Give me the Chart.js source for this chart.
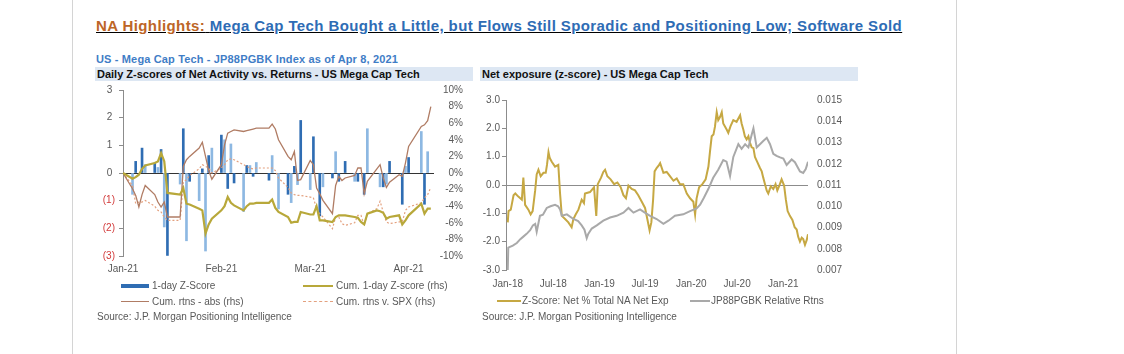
<!DOCTYPE html>
<html>
<head>
<meta charset="utf-8">
<script src="https://cdn.jsdelivr.net/npm/chart.js@4.4.1/dist/chart.umd.min.js"></script>
<style>
  body { margin: 0; background: #fff; width: 1124px; height: 354px; position: relative; overflow: hidden;
         font-family: "Liberation Sans", Arial, sans-serif; }
  .abs { position: absolute; white-space: nowrap; }
  .vline { position: absolute; top: 0; width: 1px; height: 354px; background: #d4d4d4; }
  .title { left: 96px; top: 16px; font-size: 15px; letter-spacing: 0.4px; font-weight: bold; line-height: 19px; text-decoration: underline; }
  .sub { left: 96px; top: 53px; font-size: 11px; letter-spacing: 0.15px; font-weight: bold; line-height: 13px; color: #3f7dc6; }
  .band { top: 67px; height: 14px; line-height: 14px; background: #dde7f3; font-size: 11px; font-weight: bold; color: #111; padding-left: 2px; box-sizing: border-box; }
  .leg { font-size: 10px; line-height: 12px; color: #595959; }
  .sw { position: absolute; }
  canvas { position: absolute; }
</style>
</head>
<body>
<div class="vline" style="left:72px"></div>
<div class="vline" style="left:956px"></div>

<div class="abs title"><span style="color:#bd6526">NA Highlights:</span> <span style="color:#2e6cb5">Mega Cap Tech Bought a Little, but Flows Still Sporadic and Positioning Low; Software Sold</span></div>
<div class="abs sub">US - Mega Cap Tech - JP88PGBK Index as of Apr 8, 2021</div>
<div class="abs band" style="left:95px;width:378px">Daily Z-scores of Net Activity vs. Returns - US Mega Cap Tech</div>
<div class="abs band" style="left:480px;width:378px">Net exposure (z-score) - US Mega Cap Tech</div>

<canvas id="leftChart" width="368" height="200" style="left:95px;top:80px"></canvas>
<canvas id="rightChart" width="375" height="205" style="left:478px;top:85px"></canvas>

<!-- left legend -->
<div class="sw" style="left:121px;top:284px;width:28px;height:4px;background:#2f6db3"></div>
<div class="abs leg" style="left:152px;top:280px">1-day Z-Score</div>
<div class="sw" style="left:303px;top:285px;width:30px;height:2px;background:#b8a83a"></div>
<div class="abs leg" style="left:336px;top:280px">Cum. 1-day Z-score (rhs)</div>
<div class="sw" style="left:121px;top:301px;width:28px;height:1px;background:#b07c64"></div>
<div class="abs leg" style="left:152px;top:296px">Cum. rtns - abs (rhs)</div>
<div class="sw" style="left:303px;top:301px;width:30px;height:0;border-top:1px dashed #e3a07e"></div>
<div class="abs leg" style="left:336px;top:296px">Cum. rtns v. SPX (rhs)</div>
<div class="abs leg" style="left:97px;top:311px">Source: J.P. Morgan Positioning Intelligence</div>

<!-- right legend -->
<div class="sw" style="left:497px;top:300px;width:24px;height:2px;background:#c6a843"></div>
<div class="abs leg" style="left:522px;top:295px">Z-Score: Net % Total NA Net Exp</div>
<div class="sw" style="left:690px;top:300px;width:20px;height:2px;background:#a9a9a9"></div>
<div class="abs leg" style="left:711px;top:295px">JP88PGBK Relative Rtns</div>
<div class="abs leg" style="left:482px;top:311px">Source: J.P. Morgan Positioning Intelligence</div>

<script>
// ---- left chart: days counted from 1 Jan 2021 (trading days only) ----
const tradingDays = [0, 3, 4, 5, 6, 7, 10, 11, 12, 13, 14, 18, 19, 20, 21, 24, 25, 26, 27, 28,
  31, 32, 33, 34, 35, 38, 39, 40, 41, 42, 46, 47, 48, 49, 52, 53, 54, 55, 56,
  59, 60, 61, 62, 63, 66, 67, 68, 69, 70, 73, 74, 75, 76, 77, 80, 81, 82, 83, 84,
  87, 88, 89, 90, 94, 95, 96, 97];

// 1-day z-score (lhs)
const oneDayZ = [null, -0.77, 0.42, null, 0.9, 0.3, 0.36, 0.2, 0.85, -1.95, -2.98,
  -0.4, 1.6, -2.45, -0.3, -1.0, 0.15, -2.82, 0.63, 0.9,
  1.37, 1.2, -0.56, 1.05, -0.36, -1.39, 0.27, 0.27, -0.12, 0.38, -0.26, 0.63, null, -1.3,
  -0.77, -1.07, 0.24, -0.42, 1.9, -0.6, 1.31, null, -1.55, -0.5, -0.18, 0.77, -0.3, null, 0.42,
  -0.3, -0.3, null, -0.77, 1.6, null, -0.5, -0.5, -0.4, 0.42, null, -1.13, 0.24, 0.56,
  1.5, -1.13, 0.77, null];

// cumulative 1-day z-score (rhs, %)
const cumZ = [0, -0.7, -0.5, -0.2, 0.5, 0.9, 1.2, 1.4, 2.4, 1.4, -2.4, -2.6, -1.8, -3.7, -3.8,
  -4.3, -4.5, -7.3, -6.2, -5.5, -4.5, -4.0, -2.9, -3.6, -3.9, -4.5, -4.0, -3.7, -3.7, -3.6,
  -3.6, -3.2, -4.2, -4.7, -5.3, -6.0, -5.9, -5.9, -4.7, -5.0, -5.0, -4.0, -5.7, -5.7,
  -5.9, -5.3, -5.1, -5.1, -5.1, -5.3, -5.4, -5.9, -6.2, -4.9, -4.5, -4.6, -4.8, -5.5, -5.3,
  -5.1, -6.2, -5.7, -5.1, -3.7, -4.9, -4.3, -4.3];

// cumulative absolute returns (rhs, %)
const cumAbs = [0, -1.9, -2.7, -4.1, -2.6, -1.5, -2.6, -3.5, -4.1, -3.5, -5.3, -5.3, 0.8, 1.6, 2.0,
  3.0, 3.7, 2.0, 0.3, -0.75, 1.0, 3.4, 4.8, 5.0, 5.2, 5.0, 5.1, 5.2, 5.3, 5.4,
  5.4, 5.9, 5.3, 4.0, 2.0, 1.6, 2.6, -0.9, -0.8, 1.5, 1.0, -1.8, -2.5, -3.3,
  -4.9, -1.5, -0.4, -0.9, -0.6, -0.3, 0.6, 0.6, -2.5, -1.0, 0.5, 1.0, -0.6, -1.75, -1.1,
  -0.2, -0.4, 1.2, 3.2, 5.6, 5.8, 6.3, 8.0];

// cumulative returns vs SPX (rhs, %)
const cumVsSpx = [0, -1.5, -3.7, -3.5, -3.5, -3.3, -4.0, -4.5, -4.7, -5.3, -5.7, -5.7, -1.1, -0.8, -0.3,
  0.5, 1.0, 0.8, 0.6, 0.0, 0.6, 1.0, 1.6, 1.7, 1.6, 1.0, 0.8, 0.6, 0.5, 0.6,
  0.6, 0.6, 0.3, -0.6, -1.75, -2.4, -2.6, -2.7, -2.7, -2.9, -3.0, -4.3, -4.9, -5.3,
  -6.7, -5.3, -5.3, -6.1, -6.3, -6.0, -5.1, -5.1, -6.3, -4.9, -4.3, -3.4, -4.7, -5.9, -6.1,
  -5.9, -5.9, -4.5, -4.1, -3.6, -3.0, -2.6, -1.75];

const leftTickDays = [0, 31, 59, 90];
const leftTickLabels = ['Jan-21', 'Feb-21', 'Mar-21', 'Apr-21'];

// ---- right chart: days counted from 1 Jan 2018 ----
const zDays = [0, 3, 12, 23, 30, 42, 56, 62, 69, 82, 91, 99, 109, 115, 122, 131, 142, 151, 156, 162,
  167, 175, 188, 201, 208, 215, 228, 241, 254, 261, 270, 281, 294, 303, 307, 327, 343, 352, 358,
  371, 380, 387, 396, 409, 423, 436, 449, 460, 470, 480, 493, 506, 519, 533, 546, 555, 564, 571,
  578, 584, 592, 602, 606, 619, 632, 645, 659, 672, 685, 698, 712, 725, 738, 745, 751, 761, 774,
  787, 798, 804, 811, 818, 824, 831, 837, 844, 851, 857, 871, 877, 886, 897, 910, 924, 930, 937,
  943, 950, 957, 963, 970, 977, 983, 993, 1003, 1010, 1016, 1023, 1030, 1036, 1046, 1056, 1065,
  1072, 1080, 1089, 1099, 1106, 1113, 1122, 1132, 1141, 1149, 1155, 1162, 1169, 1175, 1182, 1189, 1194];
const zNetExp = [-1.32, -0.92, -0.87, -0.36, -0.30, -0.41, -0.52, 0.26, -0.70, -0.87, -1.04, -0.92, -0.19, 0.37, 0.54, 0.31, 0.43, 0.43, 0.71, 1.16,
  0.95, 0.82, 0.65, 0.71, -0.30, -1.09, -1.20, -1.32, -1.49, -1.20, -1.04, -0.87, -0.52, -0.64, -0.30, -0.25, -0.08, -1.09, 0.03,
  0.26, 0.46, 0.54, 0.31, 0.20, 0.03, 0.09, -0.08, -0.36, -0.47, -0.02, -0.14, -0.19, -0.36, -0.59, -0.81, -1.20, -1.60, -1.32,
  -0.52, 0.48, 0.60, 0.71, 0.77, 0.43, 0.46, 0.31, 0.15, 0.23, 0.03, 0.03, -0.30, -0.47, -0.59, -1.04, -0.47, -0.08, 0.03,
  0.20, 0.65, 1.16, 1.72, 1.78, 2.06, 2.57, 2.29, 2.40, 2.57, 2.17, 1.95, 1.84, 2.08, 2.29, 2.23, 2.46, 2.17, 1.95,
  1.72, 1.61, 1.72, 1.50, 1.33, 1.30, 0.99, 0.80, 0.60, 0.48, 0.26, 0.03, -0.20, -0.30, -0.05, -0.14, 0.03,
  -0.19, -0.02, 0.20, -0.02, -0.52, -0.92, -1.09, -1.23, -1.49, -1.57, -1.83, -2.00, -1.86, -1.91, -2.11, -1.94, -1.74];

const relDays = [0, 2, 20, 36, 50, 62, 75, 89, 100, 109, 115, 128, 140, 155, 170, 188, 200, 208, 215,
  235, 261, 280, 294, 305, 314, 320, 334, 354, 380, 407, 433, 460, 480, 500, 526, 545, 566, 592,
  619, 639, 665, 698, 725, 751, 765, 780, 798, 817, 837, 857, 870, 884, 897, 917, 930, 944, 957,
  970, 977, 990, 1003, 1016, 1030, 1043, 1056, 1069, 1083, 1096, 1109, 1129, 1142, 1162, 1175, 1185, 1194];
const relRtns = [0.0070, 0.00805, 0.00815, 0.00827, 0.00845, 0.00857, 0.0087, 0.00887, 0.0091, 0.00917, 0.0088, 0.00955, 0.0096, 0.00992, 0.0100, 0.01007, 0.0100, 0.00985, 0.00955,
  0.00962, 0.0094, 0.0093, 0.0091, 0.0089, 0.0085, 0.0087, 0.00895, 0.0091, 0.00932, 0.00947, 0.00955, 0.0097, 0.00992, 0.0097, 0.00985, 0.0097, 0.00955, 0.0094,
  0.00917, 0.00932, 0.00955, 0.00962, 0.00977, 0.0099, 0.01007, 0.0104, 0.01082, 0.01134, 0.01172, 0.01217, 0.0121, 0.01142, 0.01232, 0.01292, 0.0127, 0.01292, 0.01277,
  0.01337, 0.01367, 0.01277, 0.01292, 0.01307, 0.01322, 0.01292, 0.01247, 0.01237, 0.0123, 0.01224, 0.01194, 0.0122, 0.01207, 0.01164, 0.01157, 0.01175, 0.01209];

const rightTickDays = [0, 181, 365, 546, 730, 912, 1096];
const rightTickLabels = ['Jan-18', 'Jul-18', 'Jan-19', 'Jul-19', 'Jan-20', 'Jul-20', 'Jan-21'];

// ---- helpers ----
const pts = (xs, ys) => xs.map((x, i) => ({ x: x, y: ys[i] }));
const grey = '#595959';
const red = '#d23b3b';

Chart.defaults.font.family = '"Liberation Sans", Arial, sans-serif';
Chart.defaults.font.size = 10;
Chart.defaults.color = grey;

// Left chart
new Chart(document.getElementById('leftChart'), {
  type: 'bar',
  data: {
    datasets: [
      { type: 'line', label: 'Cum. 1-day Z-score (rhs)', data: pts(tradingDays, cumZ), yAxisID: 'pct',
        borderColor: '#b8a83a', borderWidth: 2.2, pointRadius: 0, order: 1 },
      { type: 'line', label: 'Cum. rtns - abs (rhs)', data: pts(tradingDays, cumAbs), yAxisID: 'pct',
        borderColor: '#b07c64', borderWidth: 1.3, pointRadius: 0, order: 2 },
      { type: 'line', label: 'Cum. rtns v. SPX (rhs)', data: pts(tradingDays, cumVsSpx), yAxisID: 'pct',
        borderColor: '#e3a07e', borderWidth: 1.2, borderDash: [2, 2], pointRadius: 0, order: 3 },
      { type: 'bar', label: '1-day Z-Score', data: pts(tradingDays, oneDayZ), yAxisID: 'z',
        backgroundColor: c => (c.dataIndex % 2 ? '#8db8e2' : '#2f6db3'), barThickness: 2, order: 4 }
    ]
  },
  options: {
    responsive: false,
    animation: false,
    devicePixelRatio: 1,
    layout: { padding: { top: 8, left: 0, right: 0, bottom: 0 } },
    plugins: { legend: { display: false }, tooltip: { enabled: false } },
    scales: {
      x: {
        type: 'linear', min: 0, max: 98, offset: false,
        grid: { display: false, drawTicks: false }, border: { display: false },
        afterBuildTicks: s => { s.ticks = leftTickDays.map(v => ({ value: v })); },
        ticks: { autoSkip: false, maxRotation: 0, padding: 7,
                 callback: v => leftTickLabels[leftTickDays.indexOf(v)] },
        afterFit: s => { s.height = 24; }
      },
      z: {
        position: 'left', min: -3, max: 3,
        ticks: { stepSize: 1, padding: 4,
                 color: c => (c.tick.value < 0 ? red : grey),
                 callback: v => (v < 0 ? '(' + (-v) + ')' : v + ' ') },
        grid: { color: c => (c.tick.value === 0 ? '#333333' : 'rgba(0,0,0,0)'),
                tickColor: '#8c8c8c', tickLength: 4 },
        border: { display: true, color: '#8c8c8c' },
        afterFit: s => { s.width = 28; }
      },
      pct: {
        position: 'right', min: -10, max: 10,
        ticks: { stepSize: 2, padding: 0, crossAlign: 'far', callback: v => v + '%' },
        grid: { display: false, drawTicks: false }, border: { display: false },
        afterFit: s => { s.width = 29; }
      }
    }
  }
});

// Right chart
new Chart(document.getElementById('rightChart'), {
  type: 'line',
  data: {
    datasets: [
      { label: 'Z-Score: Net % Total NA Net Exp', data: pts(zDays, zNetExp), yAxisID: 'zs',
        borderColor: '#c6a843', borderWidth: 2, pointRadius: 0, order: 2 },
      { label: 'JP88PGBK Relative Rtns', data: pts(relDays, relRtns), yAxisID: 'rel',
        borderColor: '#a9a9a9', borderWidth: 2, pointRadius: 0, order: 1 }
    ]
  },
  options: {
    responsive: false,
    animation: false,
    devicePixelRatio: 1,
    layout: { padding: { top: 7, left: 0, right: 0, bottom: 0 } },
    plugins: { legend: { display: false }, tooltip: { enabled: false } },
    scales: {
      x: {
        type: 'linear', min: -7, max: 1194,
        grid: { display: false, drawTicks: false }, border: { display: false },
        afterBuildTicks: s => { s.ticks = rightTickDays.map(v => ({ value: v })); },
        ticks: { autoSkip: false, maxRotation: 0, padding: 8,
                 callback: v => rightTickLabels[rightTickDays.indexOf(v)] },
        afterFit: s => { s.height = 20; }
      },
      zs: {
        position: 'left', min: -3, max: 3,
        ticks: { stepSize: 1, padding: 2, callback: v => v.toFixed(1) },
        grid: { color: c => (c.tick.value === 0 ? '#8c8c8c' : 'rgba(0,0,0,0)'),
                tickColor: '#8c8c8c', tickLength: 4 },
        border: { display: true, color: '#8c8c8c' },
        afterFit: s => { s.width = 28; }
      },
      rel: {
        position: 'right', min: 0.007, max: 0.015,
        ticks: { stepSize: 0.001, padding: 9, callback: v => v.toFixed(3) },
        grid: { display: false, drawTicks: false }, border: { display: false },
        afterFit: s => { s.width = 45; }
      }
    }
  }
});
</script>
</body>
</html>
